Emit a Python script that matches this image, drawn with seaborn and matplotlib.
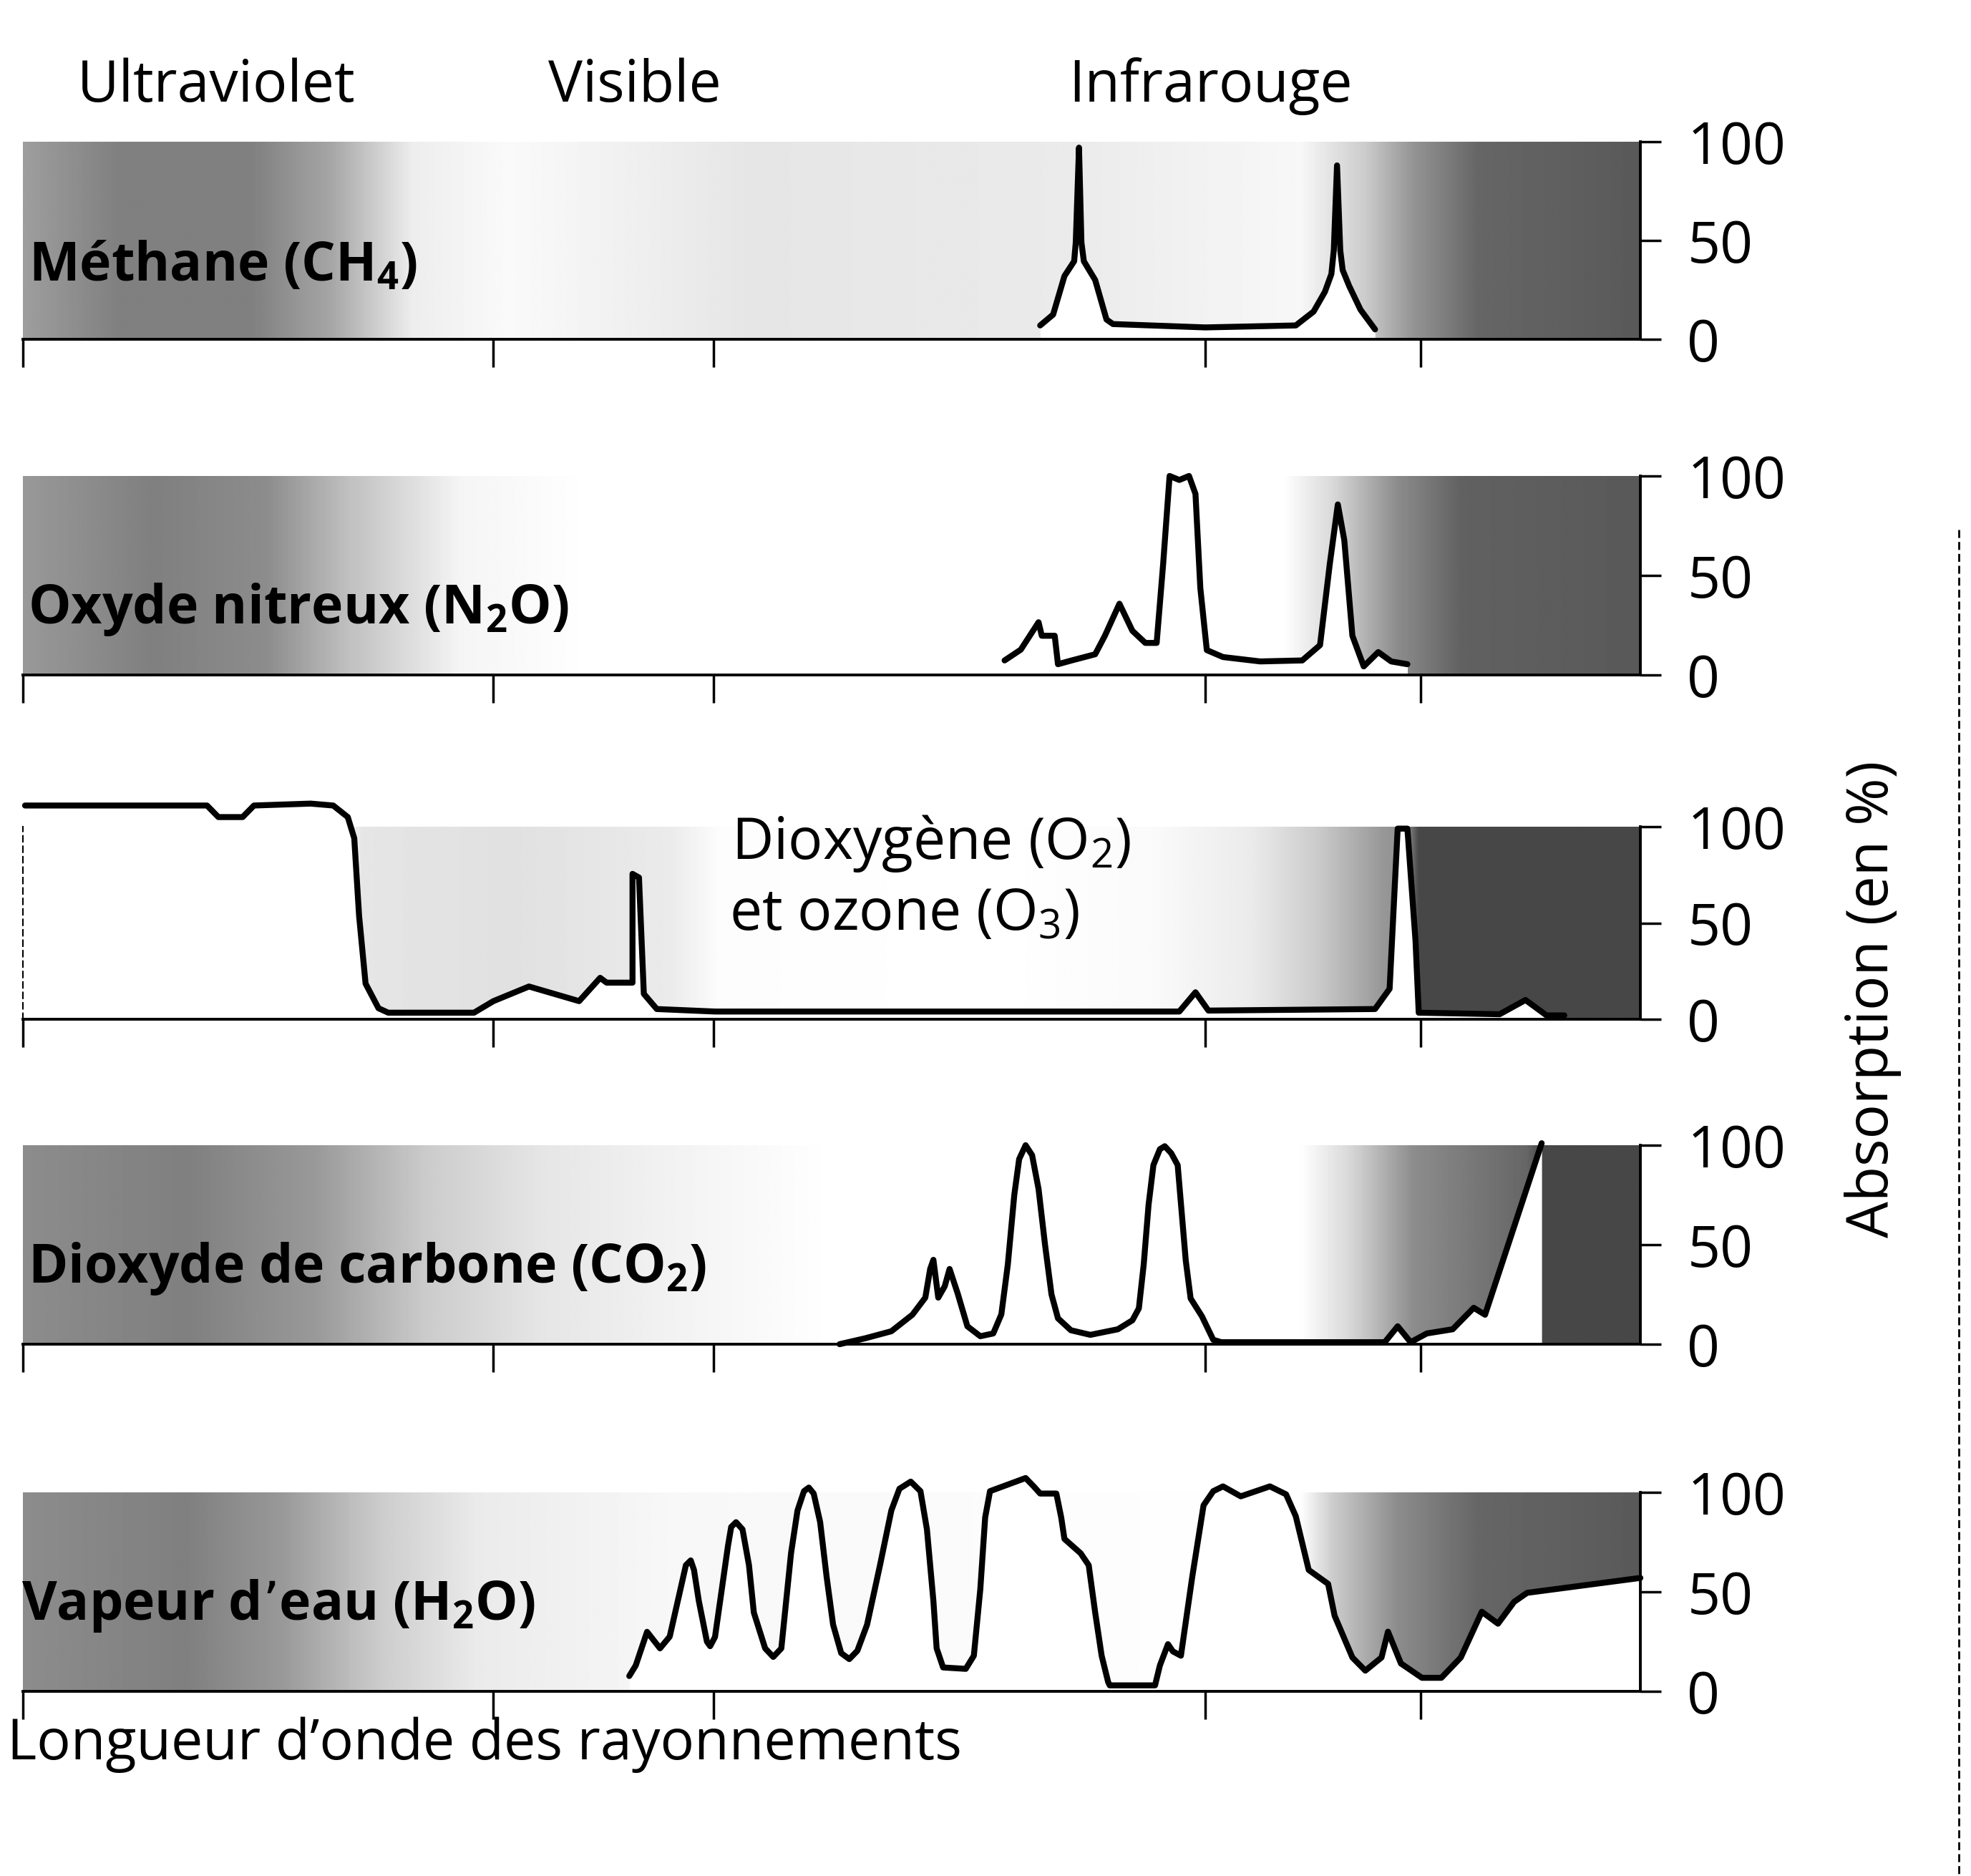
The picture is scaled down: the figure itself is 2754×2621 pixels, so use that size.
import numpy as np
import seaborn as sns
import matplotlib.pyplot as plt
from matplotlib.lines import Line2D

# wavelength axis normalised 0-100 (no numeric labels in the original)
tick_pos = [0, 29.1, 42.7, 73.1, 86.4]
y_ticks = [0, 50, 100]

# Methane
ch4_x = [62.9, 63.7, 64.4, 65.0, 65.1, 65.3, 65.45, 65.6, 66.3, 67.0, 67.4, 73.1, 78.7,
         79.8, 80.5, 80.9, 81.05, 81.25, 81.45, 81.6, 82.0, 82.7, 83.6]
ch4_y = [7, 12.5, 32, 39.5, 49, 97, 49, 39.5, 30, 10, 7.7, 6, 7,
         14, 24, 33, 45, 88, 45, 35, 27, 15, 5]

# Oxyde nitreux
n2o_x = [60.7, 61.7, 62.8, 63.0, 63.8, 64.0, 64.8, 66.3, 66.9, 67.8, 68.6, 69.4, 70.1,
         70.5, 70.9, 71.5, 72.1, 72.5, 72.8, 73.2, 74.2, 76.5, 79.1, 80.2, 80.8, 81.3,
         81.7, 82.2, 82.9, 83.8, 84.6, 85.6]
n2o_y = [7.3, 12.7, 26.5, 19.7, 19.7, 5.4, 7.2, 10.4, 19.7, 35.8, 22.2, 16.1, 16.1,
         55.6, 100, 98, 100, 91, 43.7, 12.5, 9, 6.8, 7.3, 15, 55.6, 85.7,
         67.7, 19.7, 4.3, 11.5, 6.8, 5.4]

# Dioxygene et ozone
o2_x = [0.15, 11.4, 12.1, 13.6, 14.3, 17.8, 19.2, 20.1, 20.5, 20.8, 21.2, 22.0, 22.6,
        27.9, 29.1, 31.3, 34.4, 35.7, 36.1, 37.7, 37.7, 38.1, 38.4, 39.2, 42.8, 71.5,
        72.5, 73.3, 83.6, 84.5, 84.8, 85.0, 85.6, 86.1, 86.3, 91.3, 92.9, 94.2, 95.3]
o2_y = [111, 111, 105, 105, 111, 112, 111, 105, 94, 53.6, 18.5, 5.7, 3.4,
        3.4, 9.4, 17, 9.4, 21.5, 19, 19, 75.5, 73.6, 13.2, 5.3, 4, 4,
        14, 4.5, 5.3, 15.8, 66, 99, 99, 41, 3.4, 2.6, 10, 2, 2]

# Dioxyde de carbone
co2_x = [50.5, 52.1, 53.7, 55.0, 55.8, 56.1, 56.3, 56.6, 57.0, 57.3, 57.8, 58.4, 59.2,
         60.0, 60.5, 60.9, 61.3, 61.6, 62.0, 62.4, 62.8, 63.2, 63.6, 64.0, 64.8, 66.0,
         67.7, 68.6, 69.0, 69.3, 69.6, 69.9, 70.3, 70.6, 71.0, 71.4, 71.9, 72.2, 72.9,
         73.6, 74.1, 84.2, 85.0, 85.8, 86.8, 88.4, 89.7, 90.4, 93.9]
co2_y = [0, 3, 6.5, 14.8, 23.4, 37.8, 42.4, 23.4, 29.1, 37.8, 25.5, 9, 4,
         5.4, 15, 40, 75, 93, 100, 95, 78, 50, 25, 13, 7, 4.7,
         7.5, 12, 18, 40, 70, 90, 98, 99.5, 96, 90, 42, 23, 14,
         2.2, 1, 1, 9, 1, 5.4, 7.5, 18.3, 14.8, 101]

# Vapeur d'eau
h2o_x = [37.5, 37.9, 38.6, 39.4, 40.0, 40.8, 41.0, 41.3, 41.5, 41.8, 42.3, 42.5, 42.8,
         43.6, 43.8, 44.1, 44.5, 44.9, 45.2, 45.9, 46.4, 46.9, 47.5, 47.9, 48.3, 48.6,
         48.9, 49.3, 49.7, 50.1, 50.6, 51.1, 51.6, 52.2, 53.0, 53.7, 54.2, 54.9, 55.5,
         55.9, 56.3, 56.5, 56.9, 58.3, 58.8, 59.2, 59.5, 59.8, 60.6, 61.4, 62.0, 62.5,
         62.9, 63.9, 64.2, 64.4, 65.4, 65.9, 66.3, 66.7, 67.1, 67.2, 70.0, 70.3, 70.8,
         71.1, 71.6, 72.3, 73.0, 73.6, 74.2, 75.3, 77.1, 78.1, 78.7, 79.5, 80.7, 81.1,
         82.2, 83.0, 84.0, 84.4, 85.2, 86.5, 87.7, 88.9, 90.2, 91.2, 92.2, 93.0, 100]
h2o_y = [7.7, 13, 29.9, 21.6, 27.5, 56.2, 63.4, 65.8, 61, 45.4, 25, 22.7, 27.3,
         73, 82.6, 85, 81.4, 63.4, 39.6, 21.6, 17.3, 21.6, 69.4, 90.9, 100.6, 102.4,
         99.4, 85, 57.5, 33.5, 19.2, 16.2, 20.4, 33.5, 63.4, 90.9, 101.8, 105.4, 100.6,
         81.4, 45.4, 21.6, 12, 11.3, 17.9, 51.4, 87.4, 100.6, 103, 105.4, 107.2, 103,
         99.4, 99.4, 87.4, 76.6, 69.4, 63.4, 39.6, 17.9, 4.7, 3, 3, 13, 23.7,
         20.1, 17.9, 57.5, 93.5, 100.6, 103, 98, 103, 99, 88, 61, 54, 38,
         17, 10.4, 17, 30, 14, 6.8, 6.8, 17, 40, 34, 45, 49.5, 57]

# background shading of each band (position, grey level)
shade_ch4 = ([0, 6, 14, 19, 24, 30, 45, 65, 79, 83, 86, 90, 100],
             [0.62, 0.5, 0.5, 0.65, 0.93, 0.98, 0.9, 0.92, 0.97, 0.8, 0.58, 0.4, 0.35])
shade_n2o = ([0, 8, 15, 20, 27, 35, 78, 81, 85, 89, 100],
             [0.6, 0.5, 0.55, 0.75, 0.96, 1, 1, 0.85, 0.55, 0.38, 0.35])
shade_o2 = ([0, 19, 21, 30, 40, 43, 60, 70, 76, 80, 84, 85.6, 86.3, 100],
            [1, 1, 0.9, 0.88, 0.92, 0.99, 1, 0.98, 0.92, 0.8, 0.6, 0.55, 0.28, 0.28])
shade_co2 = ([0, 10, 18, 25, 32, 42, 50, 79, 82, 86, 93, 94, 100],
             [0.55, 0.5, 0.6, 0.8, 0.9, 0.96, 1, 1, 0.85, 0.55, 0.4, 0.28, 0.28])
shade_h2o = ([0, 10, 16, 22, 28, 40, 79, 81, 85, 90, 100],
             [0.55, 0.5, 0.6, 0.8, 0.92, 0.97, 1, 0.8, 0.55, 0.4, 0.35])

panels = [
    ('Méthane (CH$_4$)', ch4_x, ch4_y, shade_ch4, 198, 474, 40, 393),
    ('Oxyde nitreux (N$_2$O)', n2o_x, n2o_y, shade_n2o, 665, 943, 39, 871),
    (None, o2_x, o2_y, shade_o2, 1155, 1424, 0, 0),
    ('Dioxyde de carbone (CO$_2$)', co2_x, co2_y, shade_co2, 1600, 1878, 39, 1792),
    ('Vapeur d’eau (H$_2$O)', h2o_x, h2o_y, shade_h2o, 2085, 2363, 30, 2263),
]

W, H = 2754, 2621
sns.set_theme(style='white')
plt.rcParams['font.family'] = ['Open Sans', 'DejaVu Sans']
plt.rcParams['mathtext.default'] = 'regular'
plt.rcParams['text.color'] = 'black'

fig = plt.figure(figsize=(W / 100, H / 100), dpi=100)
x_left, x_right = 31.6, 2292
fs = 58
fs_bold = 54

for i, (label, xs, ys, shade, top, base, lx, ly) in enumerate(panels):
    ax = fig.add_axes([x_left / W, 1 - base / H, (x_right - x_left) / W, (base - top) / H])
    grid = np.linspace(0, 100, 800)
    grey = np.interp(grid, shade[0], shade[1])
    ax.imshow(grey[np.newaxis, :], cmap='gray', vmin=0, vmax=1, aspect='auto',
              extent=(0, 100, 0, 100), interpolation='bilinear', zorder=0)
    ax.fill_between(xs, 0, ys, color='white', lw=0, zorder=1)
    sns.lineplot(x=xs, y=ys, ax=ax, color='black', lw=6, sort=False, estimator=None, zorder=3)
    ax.lines[-1].set_clip_on(False)
    ax.lines[-1].set_solid_joinstyle('round')
    ax.set_xlim(0, 100)
    ax.set_ylim(0, 100)
    for side in ['top', 'left']:
        ax.spines[side].set_visible(False)
    for side in ['bottom', 'right']:
        ax.spines[side].set_visible(True)
        ax.spines[side].set_color('black')
        ax.spines[side].set_linewidth(2.8)
    if i == 2:
        ax.spines['left'].set_visible(True)
        ax.spines['left'].set_linestyle((0, (4, 3)))
        ax.spines['left'].set_linewidth(1.5)
        ax.spines['left'].set_color('black')
    ax.set_xticks(tick_pos)
    ax.set_xticklabels([])
    ax.yaxis.tick_right()
    ax.set_yticks(y_ticks)
    ax.set_yticklabels([str(v) for v in y_ticks])
    ax.tick_params(axis='x', bottom=True, length=28, width=2.5, direction='out', color='black')
    ax.tick_params(axis='y', right=True, left=False, length=21, width=2.5, direction='out',
                   color='black', labelsize=fs, pad=26, labelcolor='black')
    ax.set_xlabel('')
    ax.set_ylabel('')
    if label:
        fig.text(lx / W, 1 - ly / H, label, fontsize=fs_bold, fontweight='bold',
                 ha='left', va='baseline', color='black')

# O2 / O3 label
fig.text(1022 / W, 1 - 1200 / H, 'Dioxygène (O$_2$)', fontsize=fs, ha='left', va='baseline')
fig.text(1019 / W, 1 - 1300 / H, 'et ozone (O$_3$)', fontsize=fs, ha='left', va='baseline')

# band names at top
fig.text(108 / W, 1 - 142 / H, 'Ultraviolet', fontsize=fs, ha='left', va='baseline')
fig.text(766 / W, 1 - 142 / H, 'Visible', fontsize=fs, ha='left', va='baseline')
fig.text(1493 / W, 1 - 142 / H, 'Infrarouge', fontsize=fs, ha='left', va='baseline')

fig.text(10 / W, 1 - 2458 / H, 'Longueur d’onde des rayonnements', fontsize=57,
         ha='left', va='baseline')
fig.text(2617 / W, 1 - 1396 / H, 'Absorption (en %)', fontsize=fs, rotation=90,
         ha='center', va='center')

# page edge of the scan
fig.add_artist(Line2D([2737 / W, 2737 / W], [1 - 740 / H, 0], transform=fig.transFigure,
                      color='black', lw=2, ls=(0, (4, 2))))

fig.savefig('out.png', dpi=100)
